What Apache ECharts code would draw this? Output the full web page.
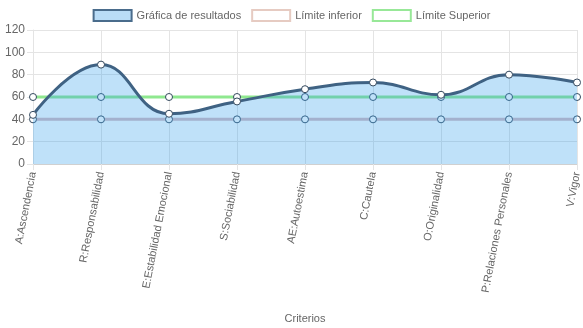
<!DOCTYPE html>
<html>
<head>
<meta charset="utf-8">
<style>
  html, body { margin: 0; padding: 0; background: #fff; }
  #chart { width: 583px; height: 328px; }
</style>
<script src="https://cdn.jsdelivr.net/npm/echarts@6/dist/echarts.min.js"></script>
</head>
<body>
<div id="chart"></div>
<script>
// Criterios evaluados
const categories = [
  'A:Ascendencia', 'R:Responsabilidad', 'E:Estabilidad Emocional', 'S:Sociabilidad',
  'AE:Autoestima', 'C:Cautela', 'O:Originalidad', 'P:Relaciones Personales', 'V:Vigor'
];
// Puntuaciones obtenidas
const resultados = [44, 89, 45, 56, 67, 73, 62, 80, 73];
// Límites de referencia
const limiteInferior = [40, 40, 40, 40, 40, 40, 40, 40, 40];
const limiteSuperior = [60, 60, 60, 60, 60, 60, 60, 60, 60];
const yTicks = { min: 0, max: 120, interval: 20 };

const textColor = '#666';
const gridColor = '#e4e4e4';
const font = 'Liberation Sans, Arial, sans-serif';

const chart = echarts.init(document.getElementById('chart'), null, { renderer: 'canvas' });

const pointStyle = { color: '#fff', borderColor: '#34495e', borderWidth: 1 };

chart.setOption({
  animation: false,
  textStyle: { fontFamily: font },
  legend: {
    top: 4,
    left: 'center',
    itemWidth: 38,
    itemHeight: 11,
    itemGap: 10,
    textStyle: { color: textColor, fontSize: 11, fontFamily: font },
    data: [
      { name: 'Gráfica de resultados', icon: 'rect',
        itemStyle: { color: '#b9dcf7', borderColor: '#4a6c8c', borderWidth: 2 } },
      { name: 'Límite inferior', icon: 'rect',
        itemStyle: { color: '#fff', borderColor: '#e6cbc2', borderWidth: 2 } },
      { name: 'Límite Superior', icon: 'rect',
        itemStyle: { color: '#fff', borderColor: '#98e898', borderWidth: 2 } }
    ]
  },
  grid: { left: 33, right: 4, top: 30, bottom: 164, containLabel: false },
  xAxis: {
    type: 'category',
    data: categories,
    boundaryGap: false,
    name: 'Criterios',
    nameLocation: 'middle',
    nameGap: 149,
    nameTextStyle: { color: textColor, fontSize: 11, fontFamily: font },
    axisLine: { show: true, lineStyle: { color: '#d0d0d0' } },
    axisTick: { show: true, length: 6, lineStyle: { color: gridColor } },
    splitLine: { show: true, lineStyle: { color: gridColor } },
    axisLabel: { rotate: 79, color: textColor, fontSize: 11, fontFamily: font, margin: 8, interval: 0 }
  },
  yAxis: {
    type: 'value',
    min: yTicks.min,
    max: yTicks.max,
    interval: yTicks.interval,
    axisLine: { show: true, lineStyle: { color: gridColor } },
    axisTick: { show: true, length: 6, lineStyle: { color: gridColor } },
    splitLine: { show: true, lineStyle: { color: gridColor } },
    axisLabel: { color: textColor, fontSize: 12, fontFamily: font, margin: 8 }
  },
  series: [
    {
      name: 'Límite inferior',
      type: 'line',
      z: 2,
      data: limiteInferior,
      symbol: 'circle',
      symbolSize: 7,
      showSymbol: true,
      lineStyle: { color: '#d6b9c0', width: 3 },
      itemStyle: pointStyle
    },
    {
      name: 'Límite Superior',
      type: 'line',
      z: 2,
      data: limiteSuperior,
      symbol: 'circle',
      symbolSize: 7,
      showSymbol: true,
      lineStyle: { color: '#8fe88f', width: 3 },
      itemStyle: pointStyle
    },
    {
      name: 'Gráfica de resultados',
      type: 'line',
      z: 3,
      data: resultados,
      smooth: 0.45,
      symbol: 'circle',
      symbolSize: 7,
      showSymbol: true,
      lineStyle: { color: '#3f6283', width: 3 },
      itemStyle: pointStyle,
      areaStyle: { color: 'rgba(54,162,235,0.45)', origin: 'start' }
    }
  ]
});
</script>
</body>
</html>
